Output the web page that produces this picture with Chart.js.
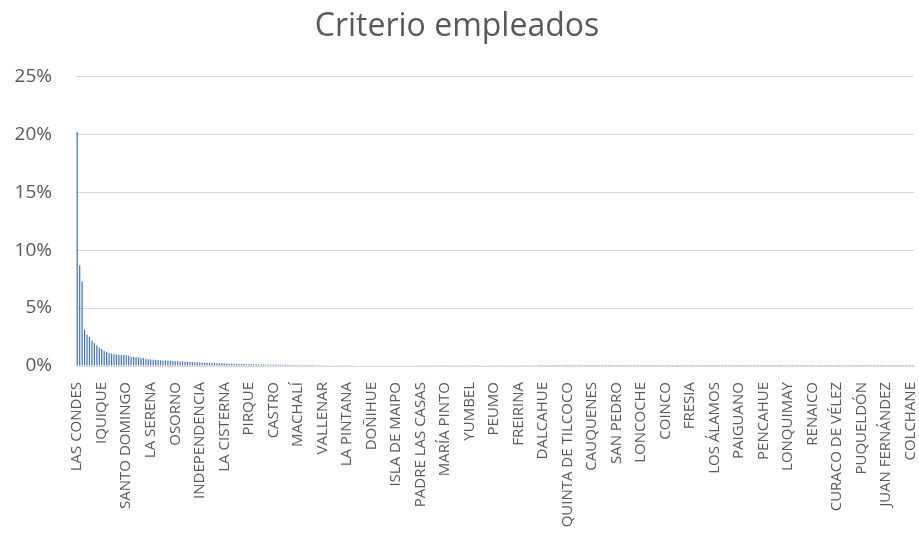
<!DOCTYPE html>
<html>
<head>
<meta charset="utf-8">
<script src="https://cdn.jsdelivr.net/npm/chart.js@4/dist/chart.umd.min.js"></script>
<style>
  html, body { margin: 0; padding: 0; background: #fff; }
  #wrap { width: 919px; height: 538px; }
</style>
</head>
<body>
<div id="wrap"><canvas id="chart" width="919" height="538"></canvas></div>
<script>
// comunas shown on the axis (one every 10 categories)
const shownComunas = [
  "LAS CONDES", "IQUIQUE", "SANTO DOMINGO", "LA SERENA", "OSORNO",
  "INDEPENDENCIA", "LA CISTERNA", "PIRQUE", "CASTRO", "MACHALÍ",
  "VALLENAR", "LA PINTANA", "DOÑIHUE", "ISLA DE MAIPO", "PADRE LAS CASAS",
  "MARÍA PINTO", "YUMBEL", "PEUMO", "FREIRINA", "DALCAHUE",
  "QUINTA DE TILCOCO", "CAUQUENES", "SAN PEDRO", "LONCOCHE", "COINCO",
  "FRESIA", "LOS ÁLAMOS", "PAIGUANO", "PENCAHUE", "LONQUIMAY",
  "RENAICO", "CURACO DE VÉLEZ", "PUQUELDÓN", "JUAN FERNÁNDEZ", "COLCHANE"
];
const labelEvery = 10;

// % of empleados per comuna, sorted high to low
const empleadosPct = [
  20.2, 8.7, 7.3, 3.13, 2.7, 2.5, 2.21, 1.98, 1.78, 1.58,
  1.47, 1.29, 1.18, 1.12, 1.06, 1.01, 1.0, 0.98, 0.97, 0.95,
  0.92, 0.89, 0.78, 0.77, 0.75, 0.74, 0.72, 0.69, 0.63, 0.58,
  0.57, 0.55, 0.54, 0.52, 0.49, 0.48, 0.48, 0.47, 0.45, 0.44,
  0.42, 0.41, 0.41, 0.40, 0.37, 0.36, 0.35, 0.34, 0.32, 0.32,
  0.31, 0.30, 0.29, 0.27, 0.27, 0.26, 0.26, 0.24, 0.23, 0.23,
  0.22, 0.21, 0.20, 0.20, 0.19, 0.18, 0.18, 0.17, 0.17, 0.16,
  0.16, 0.15, 0.15, 0.15, 0.14, 0.14, 0.14, 0.13, 0.13, 0.13,
  0.12, 0.12, 0.12, 0.11, 0.11, 0.11, 0.10, 0.10, 0.10, 0.09,
  0.09, 0.09, 0.085, 0.085, 0.08, 0.08, 0.08, 0.075, 0.075, 0.07,
  0.07, 0.07, 0.068, 0.066, 0.065, 0.064, 0.062, 0.06, 0.06, 0.058,
  0.057, 0.056, 0.055, 0.054, 0.053, 0.052, 0.05, 0.05, 0.049, 0.048,
  0.047, 0.046, 0.045, 0.045, 0.044, 0.043, 0.042, 0.041, 0.04, 0.04,
  0.039, 0.038, 0.037, 0.037, 0.036, 0.035, 0.034, 0.034, 0.033, 0.032,
  0.032, 0.031, 0.03, 0.03, 0.029, 0.028, 0.028, 0.027, 0.026, 0.026,
  0.025, 0.025, 0.024, 0.023, 0.023, 0.022, 0.022, 0.021, 0.021, 0.02,
  0.02, 0.019, 0.019, 0.018, 0.018, 0.018, 0.017, 0.017, 0.016, 0.016,
  0.016, 0.015, 0.015, 0.015, 0.014, 0.014, 0.014, 0.013, 0.013, 0.013,
  0.012, 0.012, 0.012, 0.012, 0.011, 0.011, 0.011, 0.011, 0.010, 0.010,
  0.010, 0.010, 0.010, 0.009, 0.009, 0.009, 0.009, 0.009, 0.008, 0.008,
  0.008, 0.008, 0.008, 0.008, 0.007, 0.007, 0.007, 0.007, 0.007, 0.007,
  0.007, 0.006, 0.006, 0.006, 0.006, 0.006, 0.006, 0.006, 0.006, 0.006,
  0.005, 0.005, 0.005, 0.005, 0.005, 0.005, 0.005, 0.005, 0.005, 0.005,
  0.005, 0.005, 0.005, 0.005, 0.005, 0.004, 0.004, 0.004, 0.004, 0.004,
  0.004, 0.004, 0.004, 0.004, 0.004, 0.004, 0.004, 0.004, 0.004, 0.004,
  0.004, 0.004, 0.004, 0.004, 0.004, 0.003, 0.003, 0.003, 0.003, 0.003,
  0.003, 0.003, 0.003, 0.003, 0.003, 0.003, 0.003, 0.003, 0.003, 0.003,
  0.003, 0.003, 0.003, 0.003, 0.003, 0.003, 0.003, 0.003, 0.003, 0.003,
  0.003, 0.003, 0.003, 0.003, 0.002, 0.002, 0.002, 0.002, 0.002, 0.002,
  0.002, 0.002, 0.002, 0.002, 0.002, 0.002, 0.002, 0.002, 0.002, 0.002,
  0.002, 0.002, 0.002, 0.002, 0.002, 0.002, 0.002, 0.002, 0.002, 0.002,
  0.002, 0.002, 0.002, 0.002, 0.002, 0.002, 0.002, 0.002, 0.002, 0.002,
  0.002, 0.002, 0.002, 0.002, 0.001, 0.001, 0.001, 0.001, 0.001, 0.001,
  0.001, 0.001, 0.001, 0.001, 0.001, 0.001, 0.001, 0.001, 0.001, 0.001,
  0.001, 0.001
];

const yTicks = [0, 5, 10, 15, 20, 25];

// one category per value; only every 10th carries a name
const categories = empleadosPct.map((_, i) =>
  i % labelEvery === 0 ? (shownComunas[i / labelEvery] || "") : ""
);

const textColor = "#595959";
const gridColor = "#d9d9d9";

new Chart(document.getElementById("chart"), {
  type: "bar",
  data: {
    labels: categories,
    datasets: [{
      label: "Criterio empleados",
      data: empleadosPct,
      backgroundColor: "#4472c4",
      borderWidth: 0,
      barPercentage: 0.5,
      categoryPercentage: 1.0,
    }],
  },
  options: {
    responsive: false,
    animation: false,
    devicePixelRatio: 1,
    layout: { padding: { top: 6, right: 5, bottom: 0, left: 0 } },
    plugins: {
      legend: { display: false },
      tooltip: { enabled: false },
      title: {
        display: true,
        text: "Criterio empleados",
        color: textColor,
        font: { family: "'Open Sans'", size: 32, weight: "normal" },
        padding: { top: 2, bottom: 30 },
      },
    },
    scales: {
      x: {
        grid: { display: false, drawTicks: false },
        border: { display: true, color: gridColor, width: 1 },
        ticks: {
          autoSkip: false,
          minRotation: 90,
          maxRotation: 90,
          padding: 16,
          color: textColor,
          font: { family: "'Open Sans'", size: 15 },
        },
        afterFit(scale) {
          scale.height = 172;
          // no extra side room for the rotated end labels
          scale.paddingLeft = 0;
          scale.paddingRight = 0;
        },
      },
      y: {
        min: yTicks[0],
        max: yTicks[yTicks.length - 1],
        afterBuildTicks(scale) { scale.ticks = yTicks.map((v) => ({ value: v })); },
        grid: { color: gridColor, lineWidth: 1, drawTicks: false },
        border: { display: false },
        ticks: {
          padding: 24,
          color: textColor,
          font: { family: "'Open Sans'", size: 19 },
          callback: (v) => v + "%",
        },
        afterFit(scale) {
          scale.width = 76;
          scale.paddingTop = 0;
          scale.paddingBottom = 0;
        },
      },
    },
  },
});
</script>
</body>
</html>
